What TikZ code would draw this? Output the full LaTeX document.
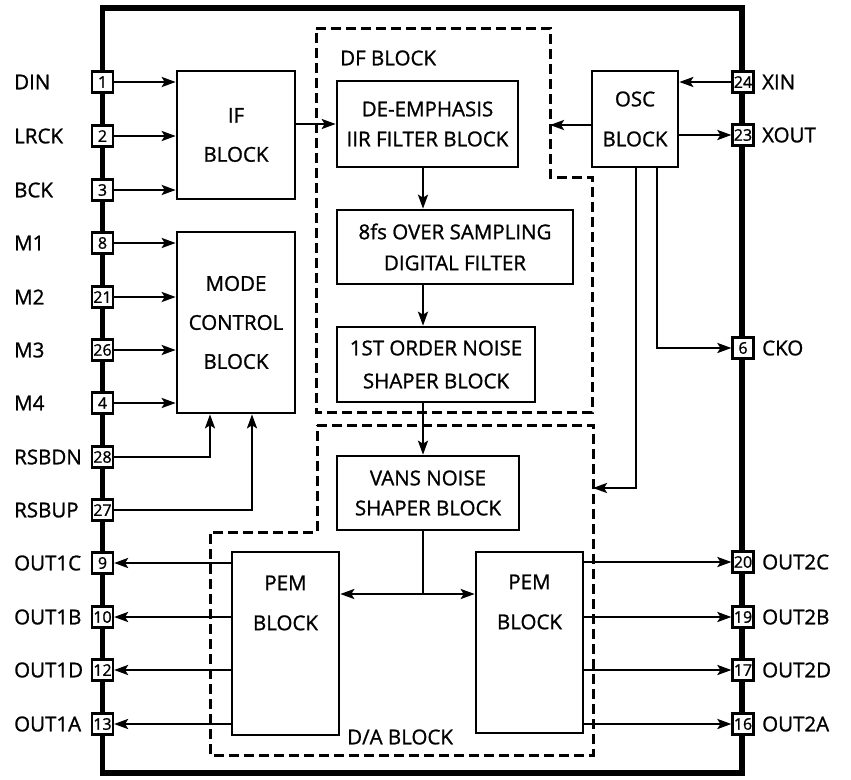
\documentclass[tikz,border=0pt]{standalone}
\usepackage{fontspec}
\setmainfont{Open Sans}[FakeBold=1.1]
\usetikzlibrary{arrows.meta}
\begin{document}
\begin{tikzpicture}[x=1pt,y=-1pt,
  blk/.style={draw,line width=2.6pt,inner sep=0pt,align=center},
  pin/.style={draw,fill=white,line width=2.2pt,minimum width=21pt,minimum height=21pt,inner sep=0pt,font=\fontsize{16}{16}\selectfont},
  lbl/.style={anchor=west,inner sep=0pt,font=\fontsize{20.5}{20.5}\selectfont},
  tip/.tip={Stealth[length=14pt,width=10pt,inset=3pt]},
  arr/.style={line width=2.5pt,-tip},
  ln/.style={line width=2.5pt},
  dsh/.style={line width=3pt,dash pattern=on 10pt off 5pt}]
\useasboundingbox (0,0) rectangle (851,779);
% chip outline
\draw[line width=5.5pt] (102.5,8) rectangle (742,773);
% dashed blocks
\draw[dsh] (316,28) -- (550,28) -- (550,177) -- (592,177) -- (592,412) -- (316,412) -- cycle;
\draw[dsh] (317,425) -- (593,425) -- (593,755) -- (210,755) -- (210,532) -- (317,532) -- cycle;
\node[lbl] (dflbl) at (340,58) {DF BLOCK};
\node[lbl] (dalbl) at (347,737) {D/A BLOCK};
% blocks
\node[blk,minimum width=118pt,minimum height=128pt,font=\fontsize{20.5}{39}\selectfont] (ifb) at (236,135) {IF\\BLOCK};
\node[blk,minimum width=118pt,minimum height=181pt,font=\fontsize{20.5}{39}\selectfont] (mode) at (236,322.5) {MODE\\CONTROL\\BLOCK};
\node[blk,minimum width=181pt,minimum height=86pt,font=\fontsize{20.5}{30}\selectfont] (de) at (427.5,124) {DE-EMPHASIS\\IIR FILTER BLOCK};
\node[blk,minimum width=236pt,minimum height=74pt,font=\fontsize{20.5}{31}\selectfont] (os) at (455,247) {8fs OVER SAMPLING\\DIGITAL FILTER};
\node[blk,minimum width=198pt,minimum height=75pt,font=\fontsize{20.5}{33}\selectfont] (ns) at (436,364.5) {1ST ORDER NOISE\\SHAPER BLOCK};
\node[blk,minimum width=86pt,minimum height=96pt,font=\fontsize{20.5}{40}\selectfont] (osc) at (635,119) {OSC\\BLOCK};
\node[blk,minimum width=182pt,minimum height=74pt,font=\fontsize{20.5}{30}\selectfont] (vans) at (428,493) {VANS NOISE\\SHAPER BLOCK};
\node[blk,minimum width=107pt,minimum height=183pt] (pemL) at (285.5,643.5) {};
\node[align=center,font=\fontsize{20.5}{40}\selectfont] (pemLt) at (285.5,603) {PEM\\BLOCK};
\node[blk,minimum width=107pt,minimum height=181pt] (pemR) at (529.5,642.5) {};
\node[align=center,font=\fontsize{20.5}{40}\selectfont] (pemRt) at (529.5,602) {PEM\\BLOCK};
% left pins
\foreach \n/\y/\t in {1/82/DIN,2/136/LRCK,3/190/BCK,8/243/M1,21/297/M2,26/350/M3,4/403/M4,28/457/RSBDN,27/510/RSBUP,9/563/OUT1C,10/617/OUT1B,12/670/OUT1D,13/724/OUT1A}{
  \node[pin] (p\n) at (102.5,\y) {\n};
  \node[lbl] (l\n) at (14,\y) {\t};
}
% right pins
\foreach \n/\y/\t in {24/82/XIN,23/135/XOUT,6/348/CKO,20/562/OUT2C,19/617/OUT2B,17/670/OUT2D,16/724/OUT2A}{
  \node[pin] (p\n) at (743,\y) {\n};
  \node[lbl] (l\n) at (762,\y) {\t};
}
% input arrows
\foreach \n in {1,2,3} \draw[arr] (p\n.east) -- (p\n.east -| ifb.west);
\foreach \n in {8,21,26,4} \draw[arr] (p\n.east) -- (p\n.east -| mode.west);
\coordinate (rd) at (210,0);
\coordinate (ru) at (252,0);
\draw[arr] (p28.east) -| (rd |- mode.south);
\draw[arr] (p27.east) -| (ru |- mode.south);
% outputs
\foreach \n in {9,10,12,13} \draw[arr] (p\n.east -| pemL.west) -- (p\n.east);
\foreach \n in {20,19,17,16} \draw[arr] (p\n.west -| pemR.east) -- (p\n.west);
% osc
\draw[arr] (p24.west) -- (p24.west -| osc.east);
\draw[arr] (p23.west -| osc.east) -- (p23.west);
\coordinate (dfr) at (550,125);
\draw[arr] (osc.west |- dfr) -- (dfr);
\coordinate (ck) at (657,0);
\draw[arr] (ck |- osc.south) |- (p6.west);
\coordinate (ck2) at (636,0);
\coordinate (dar) at (593,488);
\draw[arr] (ck2 |- osc.south) |- (dar);
% signal chain
\draw[arr] (ifb.east |- de.west) -- (de.west);
\coordinate (vx) at (423,0);
\draw[arr] (vx |- de.south) -- (vx |- os.north);
\draw[arr] (vx |- os.south) -- (vx |- ns.north);
\draw[arr] (vx |- ns.south) -- (vx |- vans.north);
\coordinate (sp) at (423,594);
\draw[ln] (vx |- vans.south) -- (sp);
\draw[line width=2.5pt,tip-tip] (pemL.east |- sp) -- (pemR.west |- sp);
\end{tikzpicture}
\end{document}
